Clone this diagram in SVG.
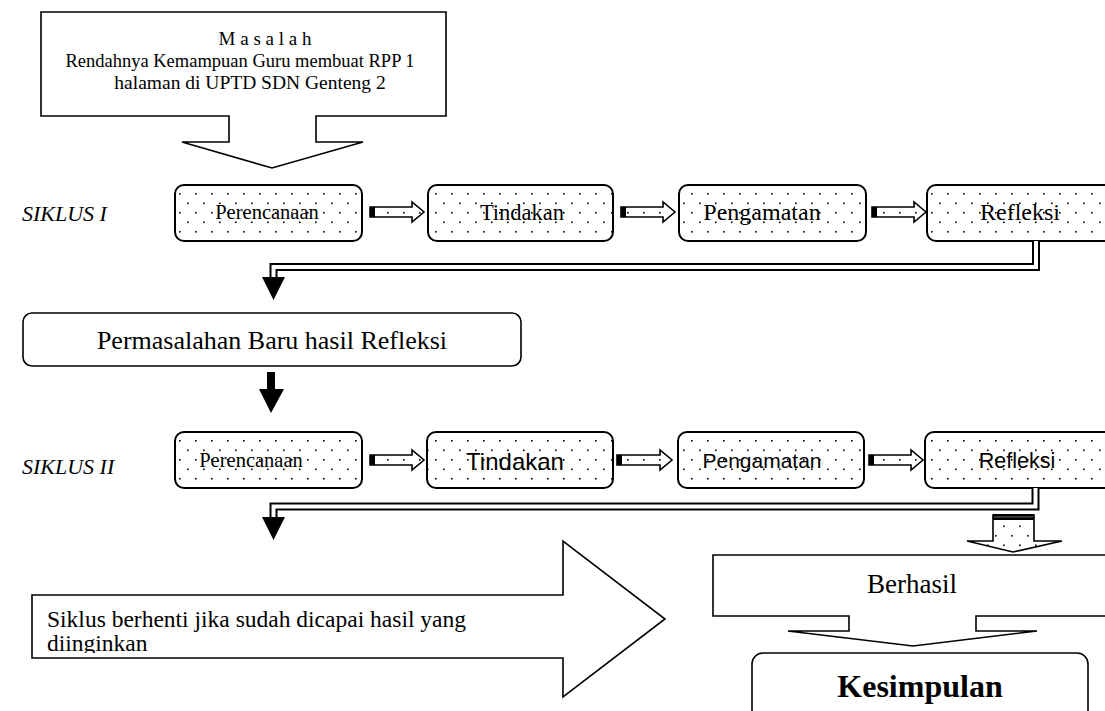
<svg xmlns="http://www.w3.org/2000/svg" width="1105" height="711" viewBox="0 0 1105 711">
<style>
.serif{font-family:"Liberation Serif","Times New Roman",serif;fill:#000}
.sans{font-family:"Liberation Sans",Arial,sans-serif;fill:#000}
.box{fill:url(#dots);stroke:#000;stroke-width:2}
.plain{fill:#fff;stroke:#000;stroke-width:1.6}
.dbl-out{fill:none;stroke:#000;stroke-width:8}
.dbl-in{fill:none;stroke:#fff;stroke-width:4}
.sarrow{fill:url(#dots);stroke:#000;stroke-width:1.6}
</style>
<defs>
<pattern id="dots" width="16" height="19" patternUnits="userSpaceOnUse">
<rect width="16" height="19" fill="#fff"/>
<rect x="3" y="3" width="1.6" height="1.6" fill="#000"/>
<rect x="11" y="12.5" width="1.6" height="1.6" fill="#000"/>
</pattern>
<clipPath id="clipText"><rect x="32" y="594" width="540" height="59"/></clipPath>
</defs>
<rect width="1105" height="711" fill="#fff"/>

<g id="masalah">
<path class="plain" d="M41,12 H446 V116 H316 V142 H363 L272,168 L182,142 H229 V116 H41 Z"/>
<text class="serif" font-size="19" x="265" y="45" text-anchor="middle">M a s a l a h</text>
<text class="serif" font-size="18.5" x="240" y="67" text-anchor="middle">Rendahnya Kemampuan Guru membuat RPP 1</text>
<text class="serif" font-size="19.5" x="250" y="89" text-anchor="middle">halaman di UPTD SDN Genteng 2</text>
</g>

<g id="label-siklus1"><text class="serif" font-size="22" font-style="italic" x="22" y="221">SIKLUS I</text></g>
<g id="label-siklus2"><text class="serif" font-size="22" font-style="italic" x="22" y="474">SIKLUS II</text></g>

<g id="perencanaan1"><rect class="box" x="175" y="185" width="187" height="56" rx="9"/><text class="serif" font-size="20.5" x="267" y="219" text-anchor="middle">Perencanaan</text></g>
<g id="tindakan1"><rect class="box" x="428" y="185" width="185" height="56" rx="9"/><text class="serif" font-size="22.5" x="522" y="220" text-anchor="middle">Tindakan</text></g>
<g id="pengamatan1"><rect class="box" x="679" y="185" width="187" height="56" rx="9"/><text class="serif" font-size="24" x="762" y="220" text-anchor="middle">Pengamatan</text></g>
<g id="refleksi1"><rect class="box" x="927" y="185" width="190" height="56" rx="9"/><text class="serif" font-size="24" x="1020" y="220" text-anchor="middle">Refleksi</text></g>

<g id="permasalahan"><rect class="plain" x="23" y="313" width="498" height="53" rx="9" stroke-width="2"/><text class="serif" font-size="26" x="272" y="349" text-anchor="middle">Permasalahan Baru hasil Refleksi</text></g>

<g id="perencanaan2"><rect class="box" x="175" y="432" width="187" height="56" rx="9"/><text class="serif" font-size="20.5" x="251" y="467" text-anchor="middle">Perencanaan</text></g>
<g id="tindakan2"><rect class="box" x="427" y="432" width="186" height="56" rx="9"/><text class="sans" font-size="24" x="515" y="470" text-anchor="middle">Tindakan</text></g>
<g id="pengamatan2"><rect class="box" x="678" y="432" width="186" height="56" rx="9"/><text class="sans" font-size="21" x="762" y="468" text-anchor="middle">Pengamatan</text></g>
<g id="refleksi2"><rect class="box" x="925" y="432" width="192" height="56" rx="9"/><text class="sans" font-size="21.5" x="1017" y="468" text-anchor="middle">Refleksi</text></g>

<g id="siklus-berhenti">
<path class="plain" d="M32,595 H563 V541 L665,619 L563,697 V658 H32 Z"/>
<g clip-path="url(#clipText)">
<text class="serif" font-size="23.5" x="47" y="627">Siklus berhenti jika sudah dicapai hasil yang</text>
<text class="serif" font-size="23.5" x="47" y="651">diinginkan</text>
</g>
</g>

<g id="berhasil">
<path class="plain" d="M713,555 H1112 V616 H976 V631 H1037 L913,646 L788,631 H849 V616 H713 Z"/>
<text class="serif" font-size="27" x="912" y="593" text-anchor="middle">Berhasil</text>
</g>

<g id="kesimpulan">
<rect class="plain" x="752" y="653" width="336" height="72" rx="11" stroke-width="2"/>
<text class="serif" font-size="32" font-weight="bold" x="920" y="697" text-anchor="middle">Kesimpulan</text>
</g>

<g id="connectors">
<path class="sarrow" d="M370,207 H412 V202 L424,212 L412,222 V217 H370 Z"/><rect x="370" y="207" width="5" height="10"/>
<path class="sarrow" d="M621,207 H663 V202 L675,212 L663,222 V217 H621 Z"/><rect x="621" y="207" width="5" height="10"/>
<path class="sarrow" d="M872,207 H914 V202 L926,212 L914,222 V217 H872 Z"/><rect x="872" y="207" width="5" height="10"/>
<path class="sarrow" d="M370,455 H412 V450 L424,460 L412,470 V465 H370 Z"/><rect x="370" y="455" width="5" height="10"/>
<path class="sarrow" d="M617,455 H660 V450 L672,460 L660,470 V465 H617 Z"/><rect x="617" y="455" width="5" height="10"/>
<path class="sarrow" d="M869,455 H911 V450 L923,460 L911,470 V465 H869 Z"/><rect x="869" y="455" width="5" height="10"/>
<path class="dbl-out" d="M1036,241 V267 H273.5 V278"/>
<path class="dbl-in" d="M1036,241 V267 H273.5 V278"/>
<polygon points="262,277 285,277 273.5,300" fill="#000"/>
<path d="M267,372 H275 V389 H284 L271,413 L259,389 H267 Z" fill="#000"/>
<path class="dbl-out" d="M1035.5,488 V506.5 H273.5 V518"/>
<path class="dbl-in" d="M1035.5,488 V506.5 H273.5 V518"/>
<polygon points="262,517 285,517 273.5,540" fill="#000"/>
<path class="sarrow" d="M993,515 H1034 V541 H1062 L1013,552 L967,541 H993 Z"/>
<rect x="993" y="514" width="41" height="6" fill="#000"/>
<line x1="994" y1="517" x2="1033" y2="517" stroke="#666" stroke-width="1"/>
</g>
</svg>
